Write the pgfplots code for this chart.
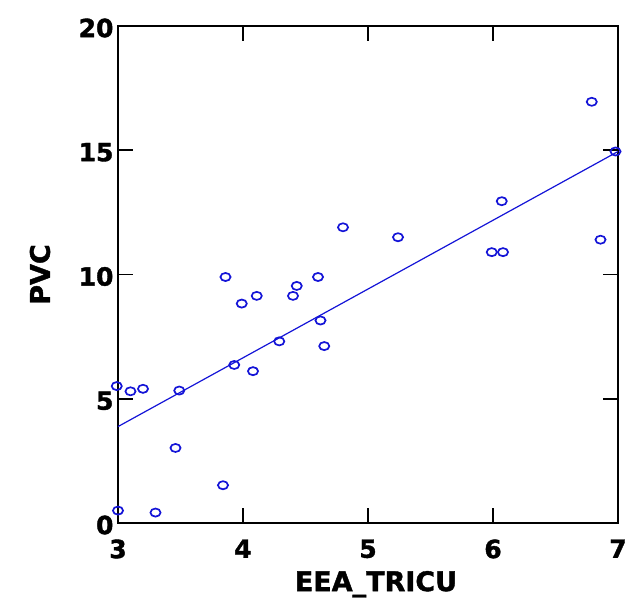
\documentclass[border=0pt]{standalone}
\usepackage{fontspec}
\setmainfont[BoldFeatures={FakeBold=1.5}]{DejaVu Sans}
\usepackage{pgfplots}
\pgfplotsset{compat=1.18}
\definecolor{ptblue}{RGB}{20,20,215}

\begin{document}
\begin{tikzpicture}
\useasboundingbox (-118pt,-75pt) rectangle (513pt,523pt);
\begin{axis}[
    scale only axis,
    width=500pt, height=497pt,
    at={(0,0)}, anchor=south west,
    clip=false,
    xmin=3, xmax=7, ymin=0, ymax=20,
    xtick={3,4,5,6,7}, ytick={0,5,10,15,20},
    tick align=inside, xtick pos=both, ytick pos=both,
    xticklabel pos=lower, yticklabel pos=left,
    major tick length=15pt,
    axis line style={line width=1.8pt},
    every tick/.style={black, line width=1.8pt},
    /pgf/number format/assume math mode=true,
    ticklabel style={font=\fontsize{25}{25}\selectfont\bfseries},
    xticklabel style={yshift=-13pt},
    yticklabel style={xshift=-1pt, yshift=-2pt},
    xlabel={EEA\_TRICU},
    ylabel={PVC},
    label style={font=\fontsize{27}{27}\selectfont\bfseries},
    xlabel style={at={(axis description cs:0.516,-0.137)}, anchor=base},
    ylabel style={at={(axis description cs:-0.156,0.5)}, anchor=center},
]
\addplot[only marks, mark=o, mark size=4.6pt, ptblue, line width=1.7pt, mark options={xscale=1.1, yscale=0.88}] coordinates {
    (2.99,5.51) (3.10,5.30) (3.20,5.40) (3.49,5.33)
    (3.00,0.50) (3.30,0.42) (3.46,3.02) (3.84,1.52)
    (3.86,9.9) (3.93,6.36) (3.99,8.83) (4.08,6.11)
    (4.11,9.14) (4.29,7.31) (4.40,9.14) (4.43,9.54)
    (4.60,9.9) (4.62,8.15) (4.65,7.12) (4.80,11.9)
    (5.24,11.5) (5.99,10.9) (6.08,10.9) (6.07,12.95)
    (6.79,16.95) (6.86,11.4) (6.98,14.95)
};
\addplot[ptblue, line width=1.2pt] coordinates {(3,3.88) (7,14.95)};
\end{axis}
\end{tikzpicture}
\end{document}
